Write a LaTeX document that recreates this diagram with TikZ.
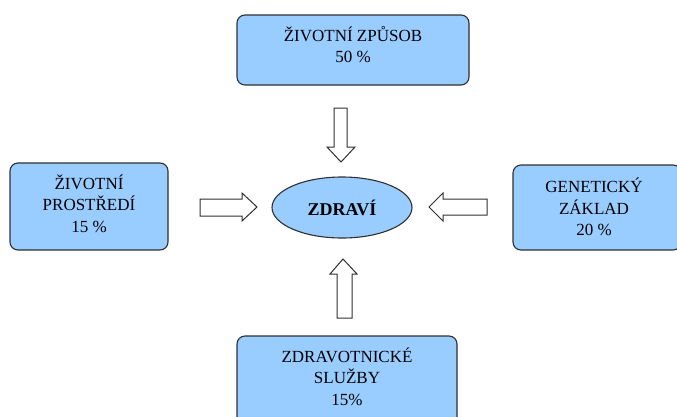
\documentclass[tikz,border=0pt]{standalone}
\usepackage{fontspec}
\setmainfont{Liberation Serif}
\definecolor{boxblue}{HTML}{99CCFF}
\definecolor{edge}{HTML}{303030}
\tikzset{
  factor/.style={draw=edge, line width=1.1pt, fill=boxblue, rounded corners=8pt,
    rectangle, inner sep=0pt},
  lbl/.style={align=center, font=\fontsize{17}{21.5}\selectfont, text=black, inner sep=0pt},
  core/.style={draw=edge, line width=1.1pt, fill=boxblue, ellipse, inner sep=0pt},
  blockarrow/.style={draw=edge, line width=1pt, fill=white, line join=miter}
}
\usetikzlibrary{shapes.geometric}
\begin{document}
\begin{tikzpicture}[x=1pt, y=-1pt]
  \useasboundingbox (0,0) rectangle (677,416);
  \clip (0,0) rectangle (677,416);
  \fill[white] (0,0) rectangle (677,416);

  % factor boxes
  \node[factor, minimum width=232pt, minimum height=70pt] (zp) at (353,50) {};
  \node[lbl] (zpt) at (353,44.5) {ŽIVOTNÍ ZPŮSOB\\50 \%};

  \node[factor, minimum width=158pt, minimum height=87pt] (pr) at (89,206.5) {};
  \node[lbl] (prt) at (89,203.5) {ŽIVOTNÍ\\PROSTŘEDÍ\\15 \%};

  \node[factor, minimum width=168pt, minimum height=85pt] (gz) at (597,207.5) {};
  \node[lbl] (gzt) at (594,207) {GENETICKÝ\\ZÁKLAD\\20 \%};

  \node[factor, minimum width=220pt, minimum height=90pt] (zs) at (347,381) {};
  \node[lbl] (zst) at (347,376.5) {ZDRAVOTNICKÉ\\SLUŽBY\\15\%};

  % centre
  \node[core, minimum width=140pt, minimum height=61pt] (zd) at (342,207.5)
    {\fontsize{18}{20}\selectfont\bfseries ZDRAVÍ};

  % block arrows pointing to the centre
  \draw[blockarrow] (200,199) -- (242,199) -- (242,193) -- (257,207)
    -- (242,221) -- (242,216) -- (200,216) -- cycle;
  \draw[blockarrow] (487,199) -- (443,199) -- (443,193) -- (429,207)
    -- (443,221) -- (443,215) -- (487,215) -- cycle;
  \draw[blockarrow] (334,108) -- (347,108) -- (347,147) -- (355,147)
    -- (341,162) -- (327,147) -- (334,147) -- cycle;
  \draw[blockarrow] (337,318) -- (352,318) -- (352,274) -- (357,274)
    -- (343,259) -- (330,274) -- (337,274) -- cycle;
\end{tikzpicture}
\end{document}
